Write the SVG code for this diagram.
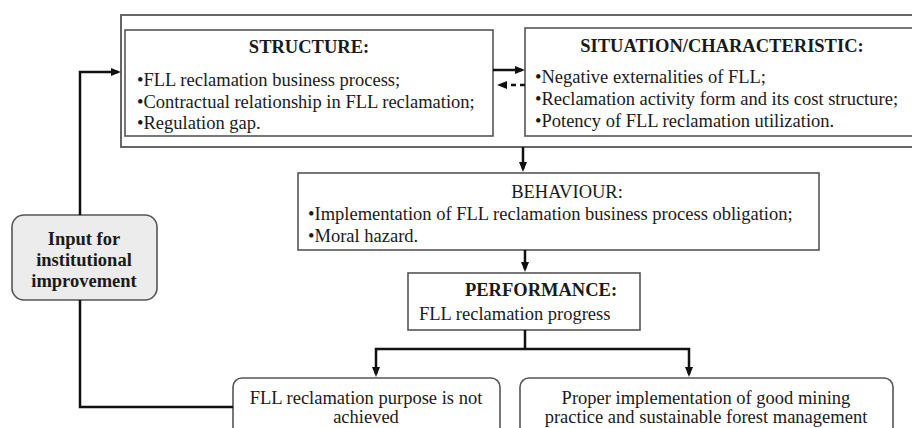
<svg xmlns="http://www.w3.org/2000/svg" width="912" height="428" viewBox="0 0 912 428">
<style>
  .box{fill:#fff;stroke:#555;stroke-width:1.6}
  .outer{fill:none;stroke:#666;stroke-width:2}
  .rbox{fill:#fff;stroke:#555;stroke-width:1.6}
  .gbox{fill:#ececec;stroke:#555;stroke-width:1.6}
  text{font-family:"Liberation Serif","Times New Roman",serif;font-size:18.5px;fill:#1a1a1a}
  .b{font-weight:bold}
  .c{text-anchor:middle}
  .ln{fill:none;stroke:#111;stroke-width:2.5}
  .dash{stroke-dasharray:5 4}
</style>
<defs>
  <marker id="ah" viewBox="0 0 10 10" refX="7" refY="5" markerWidth="10" markerHeight="10" markerUnits="userSpaceOnUse" orient="auto">
    <path d="M0,1 L10,5 L0,9 z" fill="#111"/>
  </marker>
</defs>
<rect class="outer" x="121" y="15" width="800" height="132"/>
<g id="structure">
  <rect class="box" x="125" y="30" width="368" height="106"/>
  <text class="b c" x="309" y="53">STRUCTURE:</text>
  <text x="137" y="86">•FLL reclamation business process;</text>
  <text x="137" y="108">•Contractual relationship in FLL reclamation;</text>
  <text x="137" y="129">•Regulation gap.</text>
</g>
<g id="situation">
  <rect class="box" x="525" y="28" width="395" height="108"/>
  <text class="b c" x="722" y="52">SITUATION/CHARACTERISTIC:</text>
  <text x="535" y="83">•Negative externalities of FLL;</text>
  <text x="535" y="105">•Reclamation activity form and its cost structure;</text>
  <text x="535" y="127">•Potency of FLL reclamation utilization.</text>
</g>
<g id="behaviour">
  <rect class="box" x="298" y="173" width="521" height="77"/>
  <text class="c" x="567" y="198">BEHAVIOUR:</text>
  <text x="308" y="220">•Implementation of FLL reclamation business process obligation;</text>
  <text x="308" y="242">•Moral hazard.</text>
</g>
<g id="performance">
  <rect class="box" x="408" y="273" width="232" height="57"/>
  <text class="b c" x="541" y="296">PERFORMANCE:</text>
  <text x="419" y="320">FLL reclamation progress</text>
</g>
<g id="input">
  <rect class="gbox" x="12" y="215" width="145" height="85" rx="12"/>
  <text class="b c" x="84" y="245">Input for</text>
  <text class="b c" x="84" y="266">institutional</text>
  <text class="b c" x="84" y="287">improvement</text>
</g>
<g id="notachieved">
  <rect class="rbox" x="233" y="378" width="267" height="60" rx="9"/>
  <text class="c" x="366" y="404">FLL reclamation purpose is not</text>
  <text class="c" x="366" y="423">achieved</text>
</g>
<g id="proper">
  <rect class="rbox" x="520" y="378" width="373" height="60" rx="9"/>
  <text class="c" x="706" y="404">Proper implementation of good mining</text>
  <text class="c" x="706" y="423">practice and sustainable forest management</text>
</g>
<g id="connectors">
  <path class="ln" d="M493,70 H522" marker-end="url(#ah)"/>
  <path class="ln dash" d="M525,85 H500" marker-end="url(#ah)"/>
  <path class="ln" d="M523,147 V169" marker-end="url(#ah)"/>
  <path class="ln" d="M525,250 V269" marker-end="url(#ah)"/>
  <path class="ln" d="M525,330 V349"/>
  <path class="ln" d="M525,349 H376 V374" marker-end="url(#ah)"/>
  <path class="ln" d="M525,349 H689 V374" marker-end="url(#ah)"/>
  <path class="ln" d="M233,407 H80 V300"/>
  <path class="ln" d="M80,215 V72 H118" marker-end="url(#ah)"/>
</g>
</svg>
